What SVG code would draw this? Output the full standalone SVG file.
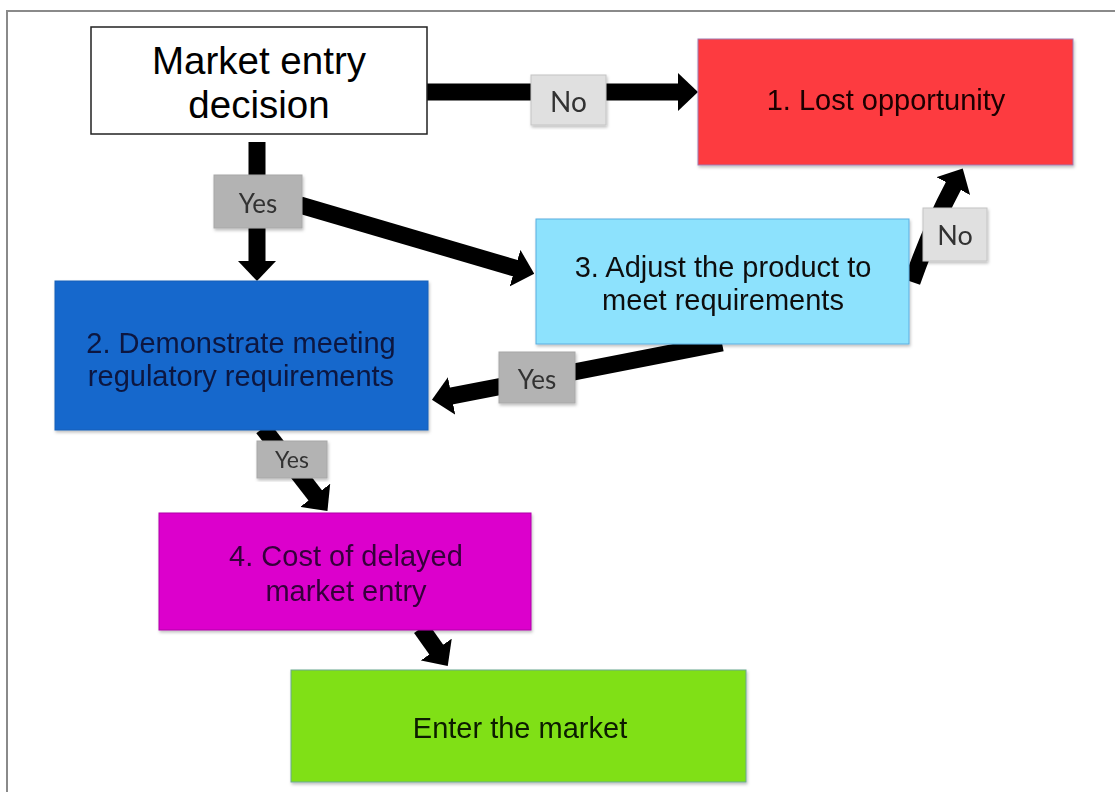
<svg xmlns="http://www.w3.org/2000/svg" width="1115" height="792" viewBox="0 0 1115 792">
  <style>
    .node { font-family: "Liberation Sans", Arial, sans-serif; font-size: 29px; text-anchor: middle; }
    .big { font-size: 38.5px; }
    .lbl { font-family: Lato, "Open Sans", sans-serif; text-anchor: middle; fill: #333333; }
    .conn { fill: none; stroke: #000000; stroke-width: 17; }
    .lblNo { fill: #e0e0e0; stroke: #c4c4c4; stroke-width: 1; }
    .lblYes { fill: #b3b3b3; stroke: #a8a8a8; stroke-width: 1; }
  </style>
  <defs>
    <marker id="head" viewBox="0 0 20 38" markerUnits="userSpaceOnUse" markerWidth="20" markerHeight="38" refX="1" refY="19" orient="auto">
      <path d="M0,0 L20,19 L0,38 Z" fill="#000000"/>
    </marker>
    <filter id="sh" x="-5%" y="-5%" width="112%" height="115%">
      <feDropShadow dx="1" dy="2" stdDeviation="1.5" flood-color="#000000" flood-opacity="0.25"/>
    </filter>
  </defs>
  <rect x="0" y="0" width="1115" height="792" fill="#ffffff"/>
  <path d="M7,792 L7,11 L1115,11" fill="none" stroke="#8a8a8a" stroke-width="2"/>

  <g id="connectors">
    <path class="conn" d="M427,92 L679,92" marker-end="url(#head)"/>
    <path class="conn" d="M257,142 L257,262" marker-end="url(#head)"/>
    <path class="conn" d="M300,205 L516,268.4" marker-end="url(#head)"/>
    <path class="conn" d="M912,282 Q931,228 953.8,185.2" marker-end="url(#head)"/>
    <path class="conn" d="M722,343 L450.6,396.2" marker-end="url(#head)"/>
    <path class="conn" d="M263,428 L315.8,496.1" marker-end="url(#head)"/>
    <path class="conn" d="M421,628 L436.8,650.4" marker-end="url(#head)"/>

    <g id="label-no-top" filter="url(#sh)">
      <rect class="lblNo" x="531" y="75" width="75" height="50"/>
      <text class="lbl" x="568.5" y="112" font-size="28">No</text>
    </g>
    <g id="label-yes-top" filter="url(#sh)">
      <rect class="lblYes" x="214" y="175" width="88" height="53"/>
      <text class="lbl" x="258" y="213" font-size="26">Yes</text>
    </g>
    <g id="label-no-right" filter="url(#sh)">
      <rect class="lblNo" x="923" y="208" width="64" height="53"/>
      <text class="lbl" x="955" y="245" font-size="27">No</text>
    </g>
    <g id="label-yes-mid" filter="url(#sh)">
      <rect class="lblYes" x="499" y="352" width="76" height="51"/>
      <text class="lbl" x="537" y="389" font-size="26">Yes</text>
    </g>
    <g id="label-yes-low" filter="url(#sh)">
      <rect class="lblYes" x="257" y="441" width="70" height="37"/>
      <text class="lbl" x="292" y="468" font-size="23">Yes</text>
    </g>
  </g>

  <g id="node-decision">
    <rect x="91" y="27" width="336" height="107" fill="#ffffff" stroke="#222222" stroke-width="1.5"/>
    <text class="node big" x="259" y="74" fill="#000000">Market entry</text>
    <text class="node big" x="259" y="118" fill="#000000">decision</text>
  </g>

  <g id="node-lost" filter="url(#sh)">
    <rect x="698" y="39" width="375" height="126" fill="#fd3a40" stroke="#a07ab0" stroke-width="1"/>
    <text class="node" x="886" y="110" fill="#1a0000">1. Lost opportunity</text>
  </g>

  <g id="node-demonstrate" filter="url(#sh)">
    <rect x="55" y="281" width="373" height="149" fill="#1467cc" stroke="#1560b8" stroke-width="1"/>
    <text class="node" x="241" y="353" fill="#0a1840">2. Demonstrate meeting</text>
    <text class="node" x="241" y="386" fill="#0a1840">regulatory requirements</text>
  </g>

  <g id="node-adjust" filter="url(#sh)">
    <rect x="536" y="219" width="373" height="125" fill="#8de2fd" stroke="#5aaee0" stroke-width="1"/>
    <text class="node" x="723" y="277" fill="#111111">3. Adjust the product to</text>
    <text class="node" x="723" y="310" fill="#111111">meet requirements</text>
  </g>

  <g id="node-cost" filter="url(#sh)">
    <rect x="159" y="513" width="372" height="117" fill="#dc00cc" stroke="#b000a8" stroke-width="1"/>
    <text class="node" x="346" y="566" fill="#35003a">4. Cost of delayed</text>
    <text class="node" x="346" y="601" fill="#35003a">market entry</text>
  </g>

  <g id="node-enter" filter="url(#sh)">
    <rect x="291" y="670" width="455" height="112" fill="#80e018" stroke="#6aa890" stroke-width="1"/>
    <text class="node" x="520" y="738" fill="#0a1a00">Enter the market</text>
  </g>
</svg>
